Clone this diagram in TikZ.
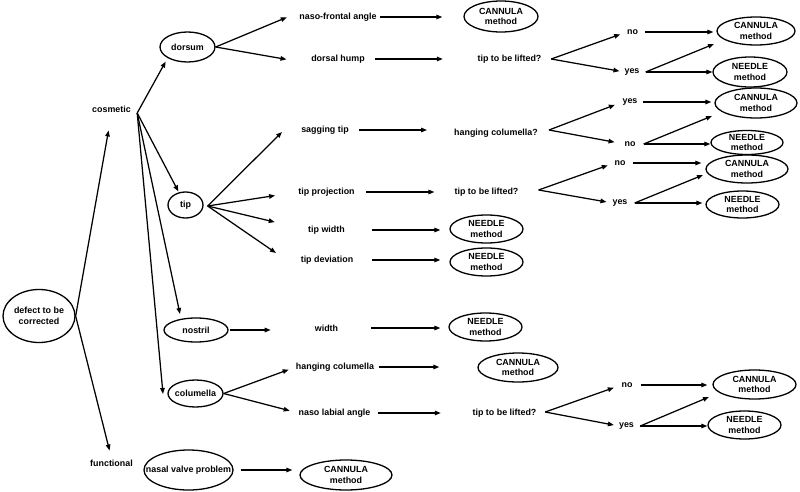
\documentclass[tikz,border=0pt]{standalone}
\usepackage{fontspec}
\setmainfont{Liberation Sans}
\usetikzlibrary{shapes.geometric,arrows.meta}
\begin{document}
\begin{tikzpicture}[x=1pt,y=-1pt,
  every node/.style={font=\bfseries\fontsize{8.9}{10.5}\selectfont},
  txt/.style={inner sep=0pt, minimum height=9pt},
  ell/.style={draw, ellipse, line width=1.3pt, inner xsep=-12pt, inner ysep=0pt, align=center},
  arr/.style={line width=1.25pt, -{Triangle[length=6pt,width=4.5pt]}}]
\useasboundingbox (0,0) rectangle (800,492);
% ellipses
\node[ell, minimum width=72pt, minimum height=53pt] (defect) at (39,316) {defect to be\\corrected};
\node[ell, minimum width=55pt, minimum height=30pt] (dorsum) at (187.5,47) {dorsum};
\node[ell, minimum width=35pt, minimum height=26pt] (tip) at (185.5,205) {tip};
\node[ell, minimum width=64pt, minimum height=24pt] (nostril) at (196,330) {nostril};
\node[ell, minimum width=55pt, minimum height=27pt] (colu) at (195.5,393.5) {columella};
\node[ell, minimum width=89pt, minimum height=40pt] (nvp) at (188.5,470) {nasal valve problem};
\node[ell, minimum width=74pt, minimum height=31pt] (c1) at (501,16.5) {CANNULA\\method};
\node[ell, minimum width=78pt, minimum height=28pt] (c2) at (756,31) {CANNULA\\method};
\node[ell, minimum width=74pt, minimum height=30pt] (n1) at (750,72) {NEEDLE\\method};
\node[ell, minimum width=82pt, minimum height=30pt] (c3) at (756,103) {CANNULA\\method};
\node[ell, minimum width=72pt, minimum height=24pt] (n2) at (747,142.5) {NEEDLE\\method};
\node[ell, minimum width=82pt, minimum height=28pt] (c4) at (747,169) {CANNULA\\method};
\node[ell, minimum width=73pt, minimum height=27pt] (n3) at (742.5,204.5) {NEEDLE\\method};
\node[ell, minimum width=73pt, minimum height=28pt] (n4) at (486.5,229) {NEEDLE\\method};
\node[ell, minimum width=73pt, minimum height=28pt] (n5) at (486.5,262) {NEEDLE\\method};
\node[ell, minimum width=73pt, minimum height=28pt] (n6) at (485.5,327) {NEEDLE\\method};
\node[ell, minimum width=80pt, minimum height=29pt] (c5) at (518,367.5) {CANNULA\\method};
\node[ell, minimum width=83pt, minimum height=29pt] (c6) at (754.5,384.5) {CANNULA\\method};
\node[ell, minimum width=73pt, minimum height=28pt] (n7) at (744.5,425) {NEEDLE\\method};
\node[ell, minimum width=92pt, minimum height=30pt] (c7) at (346,475) {CANNULA\\method};
% texts
\node[txt, minimum width=39pt] (cosm) at (111.5,109) {cosmetic};
\node[txt, minimum width=41pt] (func) at (111.5,463) {functional};
\node[txt, minimum width=78pt] (nfa) at (338,17) {naso-frontal angle};
\node[txt, minimum width=52pt] (dhump) at (338,59) {dorsal hump};
\node[txt, minimum width=65pt] (tl1) at (509.5,59) {tip to be lifted?};
\node[txt, minimum width=11pt] (no1) at (632.5,32) {no};
\node[txt, minimum width=14pt] (yes1) at (632,72) {yes};
\node[txt, minimum width=46pt] (sag) at (325,130) {sagging tip};
\node[txt, minimum width=82pt] (hc) at (496,133) {hanging columella?};
\node[txt, minimum width=14pt] (yes2) at (630,102) {yes};
\node[txt, minimum width=10pt] (no2) at (630,144) {no};
\node[txt, minimum width=57pt] (tproj) at (326.5,192) {tip projection};
\node[txt, minimum width=63pt] (tl2) at (486.5,192) {tip to be lifted?};
\node[txt, minimum width=10pt] (no3) at (620,163) {no};
\node[txt, minimum width=14pt] (yes3) at (620,203) {yes};
\node[txt, minimum width=37pt] (twid) at (326.5,230) {tip width};
\node[txt, minimum width=52pt] (tdev) at (327,260) {tip deviation};
\node[txt, minimum width=23pt] (width) at (326.5,328) {width};
\node[txt, minimum width=76pt] (hcol) at (335,367) {hanging columella};
\node[txt, minimum width=71pt] (nla) at (334.5,413) {naso labial angle};
\node[txt, minimum width=65pt] (tl3) at (504.5,413) {tip to be lifted?};
\node[txt, minimum width=10pt] (no4) at (627,385) {no};
\node[txt, minimum width=15pt] (yes4) at (626.5,426) {yes};
% junctions and free ends
\coordinate (cosJ) at ([xshift=6pt,yshift=-4pt]cosm.east);
\coordinate (tipJ) at ([xshift=4pt,yshift=-1pt]tip.east);
\coordinate (tl1J) at ([xshift=9pt]tl1.east);
\coordinate (hcJ) at ([xshift=11pt,yshift=3pt]hc.east);
\coordinate (tl2J) at ([xshift=20pt,yshift=2pt]tl2.east);
\coordinate (tl3J) at ([xshift=8pt,yshift=1pt]tl3.east);
\coordinate (nosT) at (180,314);
\coordinate (colT) at (163,394);
\coordinate (sagT) at (282,132);
\coordinate (devT) at (276,253);
\coordinate (e1) at (714,44);
\coordinate (e2) at (712,116);
\coordinate (e3) at (703,175);
\coordinate (e4) at (709,397);
% connectors
\draw[arr,shorten >=17pt] (defect.east) -- (cosm.south);
\draw[arr,shorten >=8pt] (defect.east) -- (func.north);
\draw[arr,shorten >=4pt] (cosJ) -- (dorsum.south west);
\draw[arr,shorten >=1pt] (cosJ) -- (tip);
\draw[arr] (cosJ) -- (nosT);
\draw[arr] (cosJ) -- (colT);
\draw[arr,shorten >=13pt] (dorsum.east) -- (nfa.north west);
\draw[arr,shorten >=25pt] (dorsum.east) -- (dhump.south west);
\draw[arr,shorten <=3pt,shorten >=21pt] (nfa.east) -- (nfa.east -| c1.west);
\draw[arr,shorten <=10pt,shorten >=34pt] (dhump.east) -- (tl1.west);
\draw[arr,shorten >=7pt] (tl1J) -- (no1.west);
\draw[arr,shorten >=5pt] (tl1J) -- (yes1.west);
\draw[arr,shorten <=7pt,shorten >=3pt] (no1.east) -- (no1.east -| c2.west);
\draw[arr] ([xshift=6pt]yes1.east) -- (e1);
\draw[arr,shorten <=6pt] (yes1.east) -- (yes1.east -| n1.west);
\draw[arr] (tipJ) -- (sagT);
\draw[arr,shorten >=23pt] (tipJ) -- (tproj.west);
\draw[arr,shorten >=34pt] (tipJ) -- (twid.west);
\draw[arr] (tipJ) -- (devT);
\draw[arr,shorten <=10pt,shorten >=27pt] (sag.east) -- (sag.east -| hc.west);
\draw[arr,shorten >=8pt] (hcJ) -- (yes2.west);
\draw[arr,shorten >=10pt] (hcJ) -- (no2.west);
\draw[arr,shorten <=5pt,shorten >=3pt] (yes2.east) -- (yes2.east -| c3.west);
\draw[arr] ([xshift=8pt]no2.east) -- (e2);
\draw[arr,shorten <=8pt] (no2.east) -- (no2.east -| n2.west);
\draw[arr,shorten <=11pt,shorten >=20pt] (tproj.east) -- (tl2.west);
\draw[arr,shorten >=7pt] (tl2J) -- (no3.west);
\draw[arr,shorten >=6pt] (tl2J) -- (yes3.west);
\draw[arr,shorten <=7pt,shorten >=4pt] (no3.east) -- (no3.east -| c4.west);
\draw[arr] ([xshift=7pt]yes3.east) -- (e3);
\draw[arr,shorten <=7pt,shorten >=3pt] (yes3.east) -- (yes3.east -| n3.west);
\draw[arr,shorten <=27pt,shorten >=9pt] (twid.east) -- (twid.east -| n4.west);
\draw[arr,shorten <=19pt,shorten >=9pt] (tdev.east) -- (tdev.east -| n5.west);
\draw[arr,shorten <=1pt,shorten >=44pt] (nostril.east) -- (nostril.east -| width.west);
\draw[arr,shorten <=33pt,shorten >=8pt] (width.east) -- (width.east -| n6.west);
\draw[arr,shorten >=7.5pt] (colu.east) -- (hcol.west);
\draw[arr,shorten >=9pt] (colu.east) -- (nla.west);
\draw[arr,shorten <=5pt,shorten >=38pt] (hcol.east) -- (hcol.east -| c5.west);
\draw[arr,shorten <=7pt,shorten >=31pt] (nla.east) -- (tl3.west);
\draw[arr,shorten >=8pt] (tl3J) -- (no4.west);
\draw[arr,shorten >=5pt] (tl3J) -- (yes4.west);
\draw[arr,shorten <=8pt,shorten >=5pt] (no4.east) -- (no4.east -| c6.west);
\draw[arr] ([xshift=6pt]yes4.east) -- (e4);
\draw[arr,shorten <=6pt] (yes4.east) -- (yes4.east -| n7.west);
\draw[arr,shorten <=7pt,shorten >=7pt] (nvp.east) -- (nvp.east -| c7.west);
\end{tikzpicture}
\end{document}
